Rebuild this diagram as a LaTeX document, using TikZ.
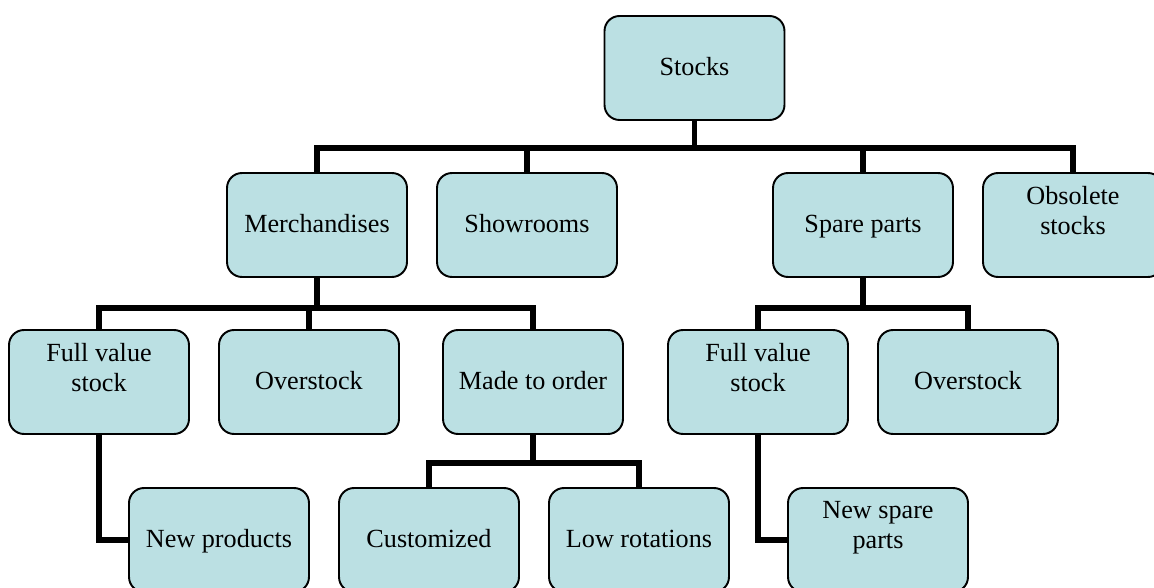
\documentclass[tikz,border=0pt]{standalone}
\usepackage{fontspec}
\setmainfont{Liberation Serif}
\usetikzlibrary{positioning}
\definecolor{boxfill}{HTML}{BBE0E3}
\tikzset{
  box/.style={draw=black, line width=1.1pt, fill=boxfill, rounded corners=0.3cm,
    minimum width=3.6cm, minimum height=2.08cm, inner sep=0pt,
    font=\fontsize{14.9}{17.1}\selectfont},
  single/.style={box, text height=1em, text depth=0.2em},
  multi/.style={box, align=center},
  link/.style={line width=3.2pt, line join=miter}
}
\begin{document}
\begin{tikzpicture}[x=0.02cm,y=0.02cm]
            \useasboundingbox (0,0) rectangle (1154,588);
            % top
            \node[single] (stocks) at (694.5,520) {Stocks};
            % second level
            \node[single] (merch) at (317,363) {Merchandises};
            \node[single] (show) at (527,363) {Showrooms};
            \node[single] (spare) at (863,363) {Spare parts};
            \node[multi] (obs) at (1073,363) {Obsolete\\stocks\\\mbox{}};
            % third level
            \node[multi] (fullA) at (99,206) {Full value\\stock\\\mbox{}};
            \node[single] (overA) at (309,206) {Overstock};
            \node[single] (order) at (533,206) {Made to order};
            \node[multi] (fullB) at (758,206) {Full value\\stock\\\mbox{}};
            \node[single] (overB) at (968,206) {Overstock};
            % fourth level
            \node[single] (newprod) at (219,48) {New products};
            \node[single] (custom) at (429,48) {Customized};
            \node[single] (lowrot) at (639,48) {Low rotations};
            \node[multi] (newspare) at (878,48) {New spare\\parts\\\mbox{}};
            % connectors
            \foreach \c in {merch,show,spare,obs}
              \draw[link] (stocks.south) -- ++(0,-27) -| (\c.north);
            \foreach \c in {fullA,overA,order}
              \draw[link] (merch.south) -- ++(0,-30) -| (\c.north);
            \foreach \c in {fullB,overB}
              \draw[link] (spare.south) -- ++(0,-30) -| (\c.north);
            \foreach \c in {custom,lowrot}
              \draw[link] (order.south) -- ++(0,-28) -| (\c.north);
            \draw[link] (fullA.south) |- (newprod.west);
            \draw[link] (fullB.south) |- (newspare.west);
        \end{tikzpicture}
\end{document}
